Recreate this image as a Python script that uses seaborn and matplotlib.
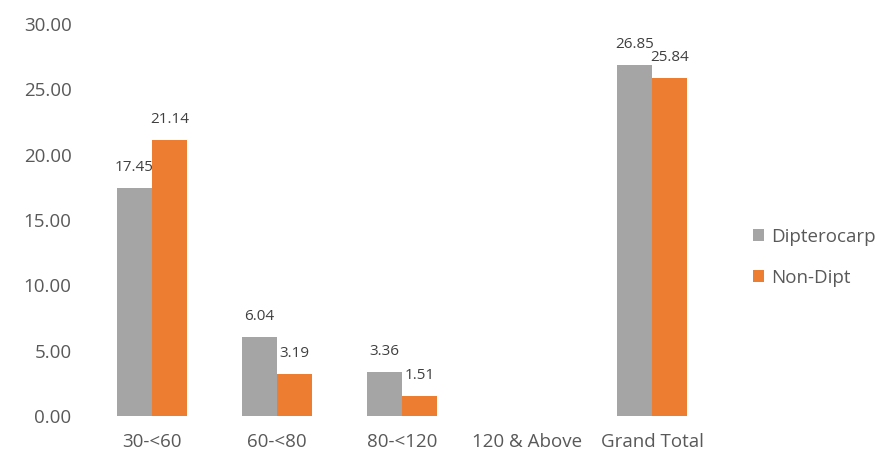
import pandas as pd
import numpy as np
import seaborn as sns
import matplotlib.pyplot as plt

categories = ["30-<60", "60-<80", "80-<120", "120 & Above", "Grand Total"]
dipterocarp = [17.45, 6.04, 3.36, np.nan, 26.85]
non_dipt = [21.14, 3.19, 1.51, np.nan, 25.84]
series = ["Dipterocarp", "Non-Dipt"]
colors = ["#A5A5A5", "#ED7D31"]

df = pd.DataFrame({
    "cat": categories * 2,
    "val": dipterocarp + non_dipt,
    "series": [series[0]] * 5 + [series[1]] * 5,
})

sns.set_style("white")
plt.rcParams["font.family"] = ["Open Sans", "DejaVu Sans"]

fig = plt.figure(figsize=(8.81, 4.57), dpi=100)
ax = fig.add_axes([0.1016, 0.0897, 0.7094, 0.8578])

sns.barplot(data=df, x="cat", y="val", hue="series", palette=colors,
            width=0.56, saturation=1, linewidth=0, ax=ax, legend=True)

# value labels above each bar, skip the empty category
for cont in ax.containers:
    labels = ["" if np.isnan(v) else f"{v:.2f}" for v in cont.datavalues]
    ax.bar_label(cont, labels=labels, padding=9.5, fontsize=11, color="#404040")

ax.set_ylim(0, 30)
ax.set_yticks(np.arange(0, 31, 5))
ax.set_yticklabels([f"{t:.2f}" for t in np.arange(0, 31, 5)])
ax.set_xlim(-0.5, 4.5)
ax.tick_params(axis="both", length=0, labelsize=13.5, colors="#595959")
ax.tick_params(axis="y", pad=13)
ax.tick_params(axis="x", pad=12)
ax.set_xlabel("")
ax.set_ylabel("")
sns.despine(ax=ax, left=True, bottom=True)

leg = ax.legend(loc="center left", bbox_to_anchor=(1.035, 0.405), frameon=False,
                fontsize=13.5, handlelength=0.6, handleheight=0.6,
                handletextpad=0.35, labelspacing=1.25)
for t in leg.get_texts():
    t.set_color("#595959")

fig.savefig("out.png", dpi=100)
